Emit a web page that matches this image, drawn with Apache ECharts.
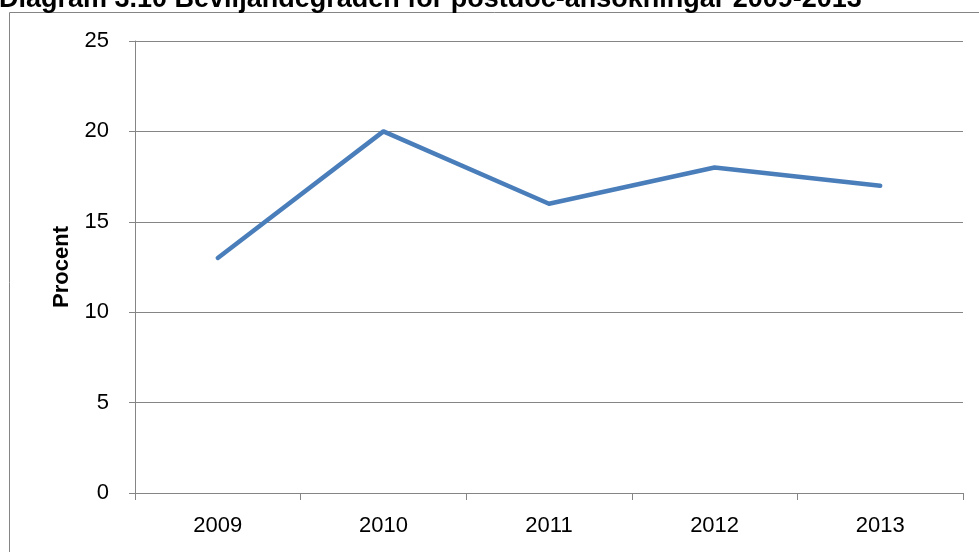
<!DOCTYPE html>
<html>
<head>
<meta charset="utf-8">
<script src="https://cdn.jsdelivr.net/npm/echarts@6/dist/echarts.min.js"></script>
<style>
html,body{margin:0;padding:0;background:#fff;}
#chart{width:979px;height:552px;}
</style>
</head>
<body>
<div id="chart"></div>
<script>
var titleText = 'Diagram 3.10 Beviljandegraden för postdoc-ansökningar 2009-2013';
var yAxisName = 'Procent';
var categories = ['2009', '2010', '2011', '2012', '2013'];
var values = [13, 20, 16, 18, 17];

var chart = echarts.init(document.getElementById('chart'), null, {renderer: 'canvas'});
var axisGray = '#858585';
chart.setOption({
  animation: false,
  backgroundColor: '#ffffff',
  title: {
    text: titleText,
    left: -1,
    top: -14,
    padding: 0,
    textStyle: {fontFamily: 'Liberation Sans, Arial, sans-serif', fontWeight: 'bold', fontSize: 27, color: '#000'}
  },
  graphic: [{
    type: 'rect',
    shape: {x: 9.5, y: 12.5, width: 1000, height: 600},
    style: {fill: 'none', stroke: axisGray, lineWidth: 1},
    silent: true, z: -1
  }],
  grid: {left: 135, right: 16, top: 41, bottom: 59, containLabel: false},
  xAxis: {
    type: 'category',
    data: categories,
    boundaryGap: true,
    axisLine: {show: true, lineStyle: {color: axisGray, width: 1}},
    axisTick: {show: true, length: 7, lineStyle: {color: axisGray}},
    axisLabel: {fontFamily: 'Liberation Sans, Arial, sans-serif', fontSize: 22, color: '#000', margin: 22},
    splitLine: {show: false}
  },
  yAxis: {
    type: 'value',
    min: 0, max: 25, interval: 5,
    name: yAxisName,
    nameLocation: 'middle',
    nameGap: 62,
    nameRotate: 90,
    nameTextStyle: {fontFamily: 'Liberation Sans, Arial, sans-serif', fontWeight: 'bold', fontSize: 22, color: '#000'},
    axisLine: {show: true, lineStyle: {color: axisGray, width: 1}},
    axisTick: {show: true, length: 6, lineStyle: {color: axisGray}},
    axisLabel: {fontFamily: 'Liberation Sans, Arial, sans-serif', fontSize: 22, color: '#000', margin: 26},
    splitLine: {show: true, lineStyle: {color: axisGray, width: 1}}
  },
  series: [{
    type: 'line',
    data: values,
    symbol: 'none',
    lineStyle: {color: '#4a7ebb', width: 4.5, cap: 'round', join: 'round'},
    itemStyle: {color: '#4a7ebb'}
  }]
});
</script>
</body>
</html>
